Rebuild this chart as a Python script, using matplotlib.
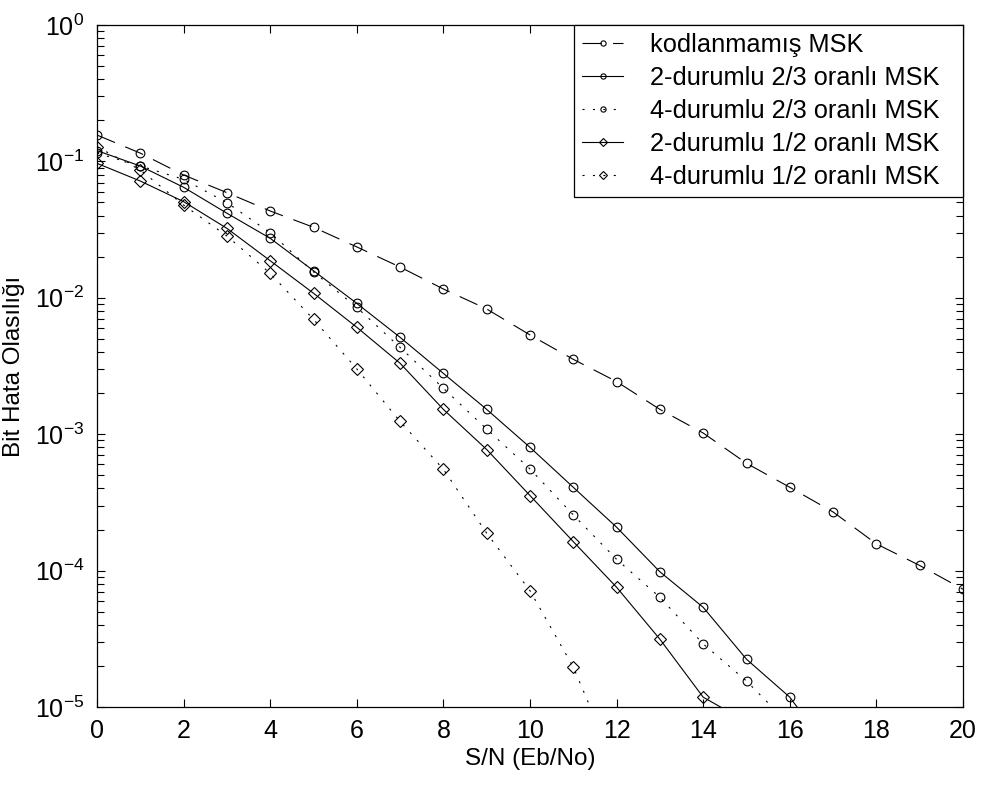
import numpy as np
import matplotlib
matplotlib.use("Agg")
import matplotlib.pyplot as plt
from matplotlib.ticker import FixedLocator, LogLocator, NullFormatter

plt.rcParams['font.family'] = ['Liberation Sans', 'DejaVu Sans']
plt.rcParams['mathtext.fontset'] = 'custom'
plt.rcParams['mathtext.rm'] = 'Liberation Sans'
plt.rcParams['lines.scale_dashes'] = False

# S/N (Eb/No) in dB
snr = np.arange(0, 21)

# bit error probabilities
uncoded = [0.156, 0.115, 0.0795, 0.059, 0.0433, 0.0329, 0.0236, 0.0168, 0.0116,
           0.00828, 0.00534, 0.00354, 0.00243, 0.00152, 0.00102, 0.000612,
           0.000408, 0.000269, 0.000157, 0.000109, 7.3e-5]
two_state_23 = [0.12, 0.0925, 0.0646, 0.0417, 0.0273, 0.0158, 0.0091, 0.00513,
                0.00279, 0.00152, 0.000801, 0.000408, 0.000208, 9.8e-5, 5.38e-5,
                2.24e-5, 1.18e-5, 4.4e-6]
four_state_23 = [0.115, 0.0925, 0.0739, 0.0498, 0.030, 0.0155, 0.0085, 0.00433,
                 0.00217, 0.00109, 0.000556, 0.000256, 0.000121, 6.37e-5, 2.9e-5,
                 1.55e-5, 7.4e-6]
two_state_12 = [0.0968, 0.0718, 0.0507, 0.0323, 0.0187, 0.0108, 0.00608, 0.00331,
                0.00152, 0.000772, 0.000355, 0.000163, 7.55e-5, 3.14e-5, 1.18e-5,
                7.8e-6]
four_state_12 = [0.128, 0.0865, 0.0479, 0.0284, 0.0151, 0.00695, 0.00301, 0.00124,
                 0.000553, 0.000188, 7.12e-5, 1.96e-5, 3.5e-6]

labels = ['kodlanmamış MSK', '2-durumlu 2/3 oranlı MSK', '4-durumlu 2/3 oranlı MSK',
          '2-durumlu 1/2 oranlı MSK', '4-durumlu 1/2 oranlı MSK']

fig = plt.figure(figsize=(9.83, 7.85), dpi=100)
ax = fig.add_axes([97 / 983, 1 - 707 / 785, (963 - 97) / 983, (707 - 25) / 785])

lw = 0.8
circ = dict(marker='o', markersize=6.3, markerfacecolor='none', markeredgecolor='k',
            markeredgewidth=0.8, color='k', linewidth=lw)
diam = dict(marker='D', markersize=6.2, markerfacecolor='none', markeredgecolor='k',
            markeredgewidth=0.8, color='k', linewidth=lw)

ax.plot(snr, uncoded, dashes=(14, 8), label=labels[0], **circ)
ax.plot(snr[:len(two_state_23)], two_state_23, linestyle='-', label=labels[1], **circ)
ax.plot(snr[:len(four_state_23)], four_state_23, dashes=(1.5, 6), label=labels[2], **circ)
ax.plot(snr[:len(two_state_12)], two_state_12, linestyle='-', label=labels[3], **diam)
ax.plot(snr[:len(four_state_12)], four_state_12, dashes=(1.5, 6), label=labels[4], **diam)

ax.set_yscale('log')
ax.set_xlim(0, 20)
ax.set_ylim(1e-5, 1)
ax.xaxis.set_major_locator(FixedLocator(np.arange(0, 21, 2)))
ax.yaxis.set_major_locator(FixedLocator([1e-5, 1e-4, 1e-3, 1e-2, 1e-1, 1]))
ax.set_yticklabels([r'$\mathregular{10^{%d}}$' % e for e in range(-5, 1)])
ax.yaxis.set_minor_locator(LogLocator(base=10, subs=np.arange(2, 10), numticks=20))
ax.yaxis.set_minor_formatter(NullFormatter())

ax.tick_params(which='both', direction='in', top=True, right=True, labelsize=18,
               width=0.8)
ax.tick_params(which='major', length=6, pad=9)
ax.tick_params(which='minor', length=5)
for s in ax.spines.values():
    s.set_linewidth(0.9)

ax.set_xlabel('S/N (Eb/No)', fontsize=17.5, labelpad=3)
ax.set_ylabel('Bit Hata Olasılığı', fontsize=17.5)
ax.yaxis.set_label_coords(-0.083, 0.5)

# legend spans the same box as the original one (x from 574 px to the right edge)
leg = ax.legend(loc='upper right', bbox_to_anchor=(0.551, 0.0, 0.449, 1.0),
                mode='expand', fontsize=18.3, frameon=True, fancybox=False,
                edgecolor='k', borderaxespad=0, handlelength=1.6, handletextpad=1.05,
                borderpad=0.32, labelspacing=0.35, markerscale=0.6)
leg.get_frame().set_linewidth(0.9)
leg.get_frame().set_alpha(1)

fig.savefig('out.png', dpi=100)
